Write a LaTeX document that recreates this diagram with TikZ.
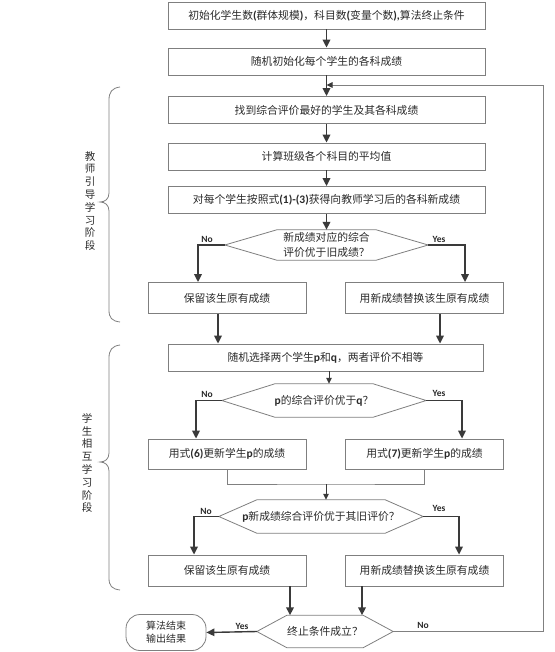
\documentclass[tikz,border=0pt]{standalone}
\usepackage{fontspec}
\setmainfont{Noto Sans CJK SC}
\newfontfamily\lat{Carlito}
\usetikzlibrary{arrows.meta}
\definecolor{boxc}{HTML}{7F7F7F}
\definecolor{arrc}{HTML}{3A3A3A}
\definecolor{txtc}{HTML}{2A2A2A}
\definecolor{thinc}{HTML}{808080}
\newcommand\hexframe[2]{\draw[boxln] (#1.west) -- ([xshift=#2]#1.north west) -- ([xshift=-#2]#1.north east) -- (#1.east) -- ([xshift=-#2]#1.south east) -- ([xshift=#2]#1.south west) -- cycle;}
\newcommand\La[1]{{\lat\bfseries\fontsize{11.5}{13}\selectfont #1}}
\begin{document}
\begin{tikzpicture}[x=1pt,y=-1pt,
  boxln/.style={draw=boxc,line width=0.8pt},
  wbox/.style={boxln,rectangle,minimum width=317pt,minimum height=27pt,inner sep=0pt,text=txtc,font=\fontsize{10.8}{13}\selectfont},
  sbox/.style={boxln,rectangle,minimum width=158pt,minimum height=31pt,inner sep=0pt,text=txtc,font=\fontsize{10.8}{13}\selectfont},
  hexn/.style={rectangle,inner sep=0pt,text=txtc,align=center,font=\fontsize{10.8}{15}\selectfont},
  term/.style={boxln,rectangle,rounded corners=14pt,minimum width=80pt,minimum height=36pt,inner sep=0pt,text=txtc,align=center,font=\fontsize{10}{13}\selectfont},
  arr/.style={draw=arrc,line width=1.7pt,-{Triangle[length=8pt,width=7.5pt]}},
  tarr/.style={draw=arrc,line width=1pt,-{Triangle[length=6pt,width=5.5pt]}},
  tline/.style={draw=thinc,line width=0.9pt},
  lbl/.style={text=txtc,font=\lat\fontsize{9.5}{10}\selectfont\bfseries,inner sep=0pt},
  brace/.style={draw=boxc,line width=0.8pt},
  blbl/.style={text=txtc,align=center,inner sep=0pt,font=\fontsize{10.5}{12.8}\selectfont}]
\useasboundingbox (0,0) rectangle (554,652);

% main boxes
\node[wbox] (b1) at (326.5,15.5) {初始化学生数\La{(}群体规模\La{)}，科目数\La{(}变量个数\La{),}算法终止条件};
\node[wbox] (b2) at (326.5,61.5) {随机初始化每个学生的各科成绩};
\node[wbox] (b3) at (326.5,110) {找到综合评价最好的学生及其各科成绩};
\node[wbox] (b4) at (326.5,156.5) {计算班级各个科目的平均值};
\node[wbox] (b5) at (326.5,200) {对每个学生按照式\La{(1)-(3)}获得向教师学习后的各科新成绩};

\node[hexn,minimum width=203pt,minimum height=30pt] (d1) at (326.5,245) {新成绩对应的综合\\评价优于旧成绩？};
\hexframe{d1}{52pt}

\node[sbox] (b6) at (227,298) {保留该生原有成绩};
\node[sbox] (b7) at (424.5,298) {用新成绩替换该生原有成绩};

\node[wbox,minimum width=315pt] (b8) at (325.5,357.5) {随机选择两个学生\La{p}和\La{q}，两者评价不相等};

\node[hexn,minimum width=204pt,minimum height=33pt] (d2) at (324,400.5) {\La{p}的综合评价优于\La{q}？};
\hexframe{d2}{53pt}

\node[sbox,minimum height=30pt] (b9) at (227,454) {用式\La{(6)}更新学生\La{p}的成绩};
\node[sbox,minimum height=30pt] (b10) at (424.5,454) {用式\La{(7)}更新学生\La{p}的成绩};

\node[hexn,minimum width=204pt,minimum height=33pt] (d3) at (321,516.5) {\La{p}新成绩综合评价优于其旧评价？};
\hexframe{d3}{38pt}

\node[sbox] (b11) at (227,570.5) {保留该生原有成绩};
\node[sbox] (b12) at (424.5,570.5) {用新成绩替换该生原有成绩};

\node[hexn,minimum width=136pt,minimum height=32pt] (d4) at (325,631.5) {终止条件成立？};
\hexframe{d4}{30pt}

\node[term] (t) at (166,632.5) {算法结束\\输出结果};

% connectors
\draw[arr] (b1) -- (b2);
\draw[arr] (b2) -- (b3);
\draw[arr] (b3) -- (b4);
\draw[arr] (b4) -- (b5);
\draw[arr] (b5) -- (d1);
\draw[arr] (d1.west) -| ([xshift=-29pt]b6.north);
\draw[arr] (d1.east) -| ([xshift=40.5pt]b7.north);
\draw[arr] ([xshift=-9pt]b6.south) -- ([xshift=-9pt]b6.south |- b8.north);
\draw[arr] ([xshift=15.5pt]b7.south) -- ([xshift=15.5pt]b7.south |- b8.north);
\draw[tarr] ([xshift=3.5pt]b8.south) -- ([xshift=3.5pt]b8.south |- d2.north);
\draw[arr] (d2.west) -| ([xshift=-31pt]b9.north);
\draw[arr] (d2.east) -| ([xshift=37.5pt]b10.north);
\coordinate (m) at (326,484);
\draw[tline] (b9.south) |- (m) -| (b10.south);
\draw[tarr] (m) -- (m |- d3.north);
\draw[arr] (d3.west) -| ([xshift=-33pt]b11.north);
\draw[arr] (d3.east) -| ([xshift=34.5pt]b12.north);
\draw[arr] ([xshift=63pt]b11.south) -- ([xshift=63pt]b11.south |- d4.north);
\draw[arr] ([xshift=-62.5pt]b12.south) -- ([xshift=-62.5pt]b12.south |- d4.north);
\draw[arr,line width=1.4pt] (d4.west) -- (t.east);
\coordinate (lr) at (543,85);
\draw[tline,-{Triangle[length=6pt,width=5.5pt,color=arrc]}] (d4.east) -| (lr) -- (b3.north |- lr);

% branch labels
\node[lbl] (n1) at (207,239) {No};
\node[lbl] (y1) at (439,239) {Yes};
\node[lbl] (n2) at (207,394) {No};
\node[lbl] (y2) at (439,393) {Yes};
\node[lbl] (n3) at (206,511) {No};
\node[lbl] (y3) at (439,508) {Yes};
\node[lbl] (y4) at (242,626) {Yes};
\node[lbl] (n4) at (423,625) {No};

% braces
\draw[brace] (120,87) .. controls (112,88) and (109,92) .. (109,100) -- (109,193)
  .. controls (109,199) and (105,202) .. (100,202) .. controls (105,202) and (109,205) .. (109,211)
  -- (109,310) .. controls (109,318) and (112,321) .. (120,322);
\draw[brace] (120,345) .. controls (112,346) and (109,350) .. (109,358) -- (109,453)
  .. controls (109,459) and (105,462) .. (100,462) .. controls (105,462) and (109,465) .. (109,471)
  -- (109,578) .. controls (109,586) and (112,589) .. (120,590);
\node[blbl] (L1) at (90,201) {教\\师\\引\\导\\学\\习\\阶\\段};
\node[blbl] (L2) at (87,463) {学\\生\\相\\互\\学\\习\\阶\\段};
\end{tikzpicture}
\end{document}
